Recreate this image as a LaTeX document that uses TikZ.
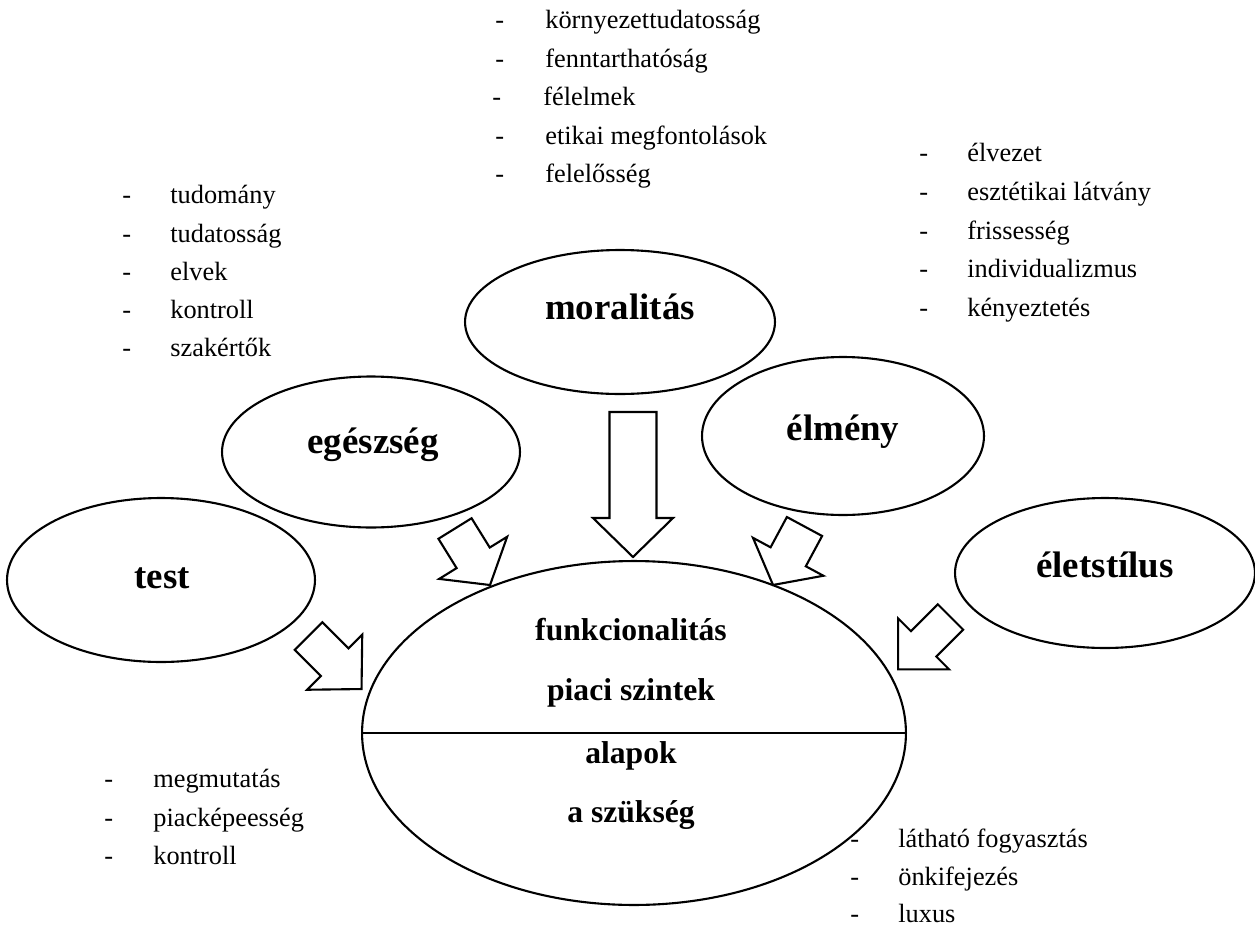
\documentclass[tikz,border=0pt]{standalone}
\usepackage{fontspec}
\setmainfont{Liberation Serif}
\usetikzlibrary{shapes.geometric}
\tikzset{
  oval/.style={draw, ellipse, line width=1.2pt, inner sep=0pt},
  lab/.style={font=\fontsize{21}{25}\selectfont\bfseries, anchor=base, inner sep=0pt},
  mainlab/.style={font=\fontsize{18}{22}\selectfont\bfseries, anchor=base, inner sep=0pt},
  item/.style={font=\fontsize{15}{18}\selectfont, anchor=base west, inner sep=0pt},
  blk/.style={draw, line width=1.2pt, fill=white, line join=miter},
  pics/blockarrow/.style n args={4}{code={
    \draw[blk] (0,#2) -- ({#1-#4},#2) -- ({#1-#4},#3) -- (#1,0) -- ({#1-#4},-#3) -- ({#1-#4},-#2) -- (0,-#2) -- cycle;
  }},
}
\begin{document}
\begin{tikzpicture}[x=0.02cm, y=-0.02cm]
\useasboundingbox (0,0) rectangle (1255,927);

% ellipses
\node[oval, minimum width=6.2cm, minimum height=2.88cm] (moral) at (620,322) {};
\node[oval, minimum width=5.96cm, minimum height=3.02cm] (egesz) at (371,452) {};
\node[oval, minimum width=5.64cm, minimum height=3.16cm] (elmeny) at (843,436) {};
\node[oval, minimum width=6.16cm, minimum height=3.28cm] (test) at (161,580) {};
\node[oval, minimum width=6.0cm, minimum height=3.0cm] (elet) at (1105,573) {};
\node[oval, minimum width=10.88cm, minimum height=6.88cm] (main) at (634,733) {};
\draw[line width=0.8pt] (main.west) -- (main.east);

% labels
\node[lab] (lmoral) at (620,319) {moralitás};
\node[lab] (legesz) at (373,453) {egészség};
\node[lab] (lelmeny) at (843,440) {élmény};
\node[lab] (ltest) at (162,588) {test};
\node[lab] (lelet) at (1105,577) {életstílus};
\node[mainlab] (m1) at (631,640) {funkcionalitás};
\node[mainlab] (m2) at (631,700) {piaci szintek};
\node[mainlab] (m3) at (631,763) {alapok};
\node[mainlab] (m4) at (631,822) {a szükség};

% block arrows
\pic[rotate=-90] (aM) at (633,412) {blockarrow={145}{23.5}{40}{39}};
\pic[rotate=-45] (aT) at (308.5,636) {blockarrow={75}{19.5}{39}{38}};
\pic[rotate=-58.2] (aE) at (455,528.5) {blockarrow={66.5}{19.5}{40}{32}};
\pic[rotate=-118.3] (aL) at (804.5,526.5) {blockarrow={66.4}{20}{40}{32}};
\pic[rotate=-135] (aS) at (950.5,617) {blockarrow={74}{18}{36}{36}};

% top list
\foreach \y/\t [count=\i] in {28/környezettudatosság,67/fenntarthatóság,144/etikai megfontolások,182/felelősség}{
  \node[item] (td\i) at (495,\y) {-};
  \node[item] (tt\i) at (545,\y) {\t};
}
\node[item] (td5) at (492,105) {-};
\node[item] (tt5) at (543,105) {félelmek};

% left list
\foreach \y/\t [count=\i] in {203/tudomány,242/tudatosság,280/elvek,318/kontroll,356/szakértők}{
  \node[item] (ld\i) at (122,\y) {-};
  \node[item] (lt\i) at (170,\y) {\t};
}

% right list
\foreach \y/\t [count=\i] in {161/élvezet,200/esztétikai látvány,239/frissesség,277/individualizmus,316/kényeztetés}{
  \node[item] (rd\i) at (919,\y) {-};
  \node[item] (rt\i) at (967,\y) {\t};
}

% bottom left list
\foreach \y/\t [count=\i] in {787/megmutatás,826/piacképeesség,864/kontroll}{
  \node[item] (bld\i) at (104,\y) {-};
  \node[item] (blt\i) at (153,\y) {\t};
}

% bottom right list
\foreach \y/\t [count=\i] in {847/látható fogyasztás,885/önkifejezés,922/luxus}{
  \node[item] (brd\i) at (850,\y) {-};
  \node[item] (brt\i) at (898,\y) {\t};
}
\end{tikzpicture}
\end{document}
